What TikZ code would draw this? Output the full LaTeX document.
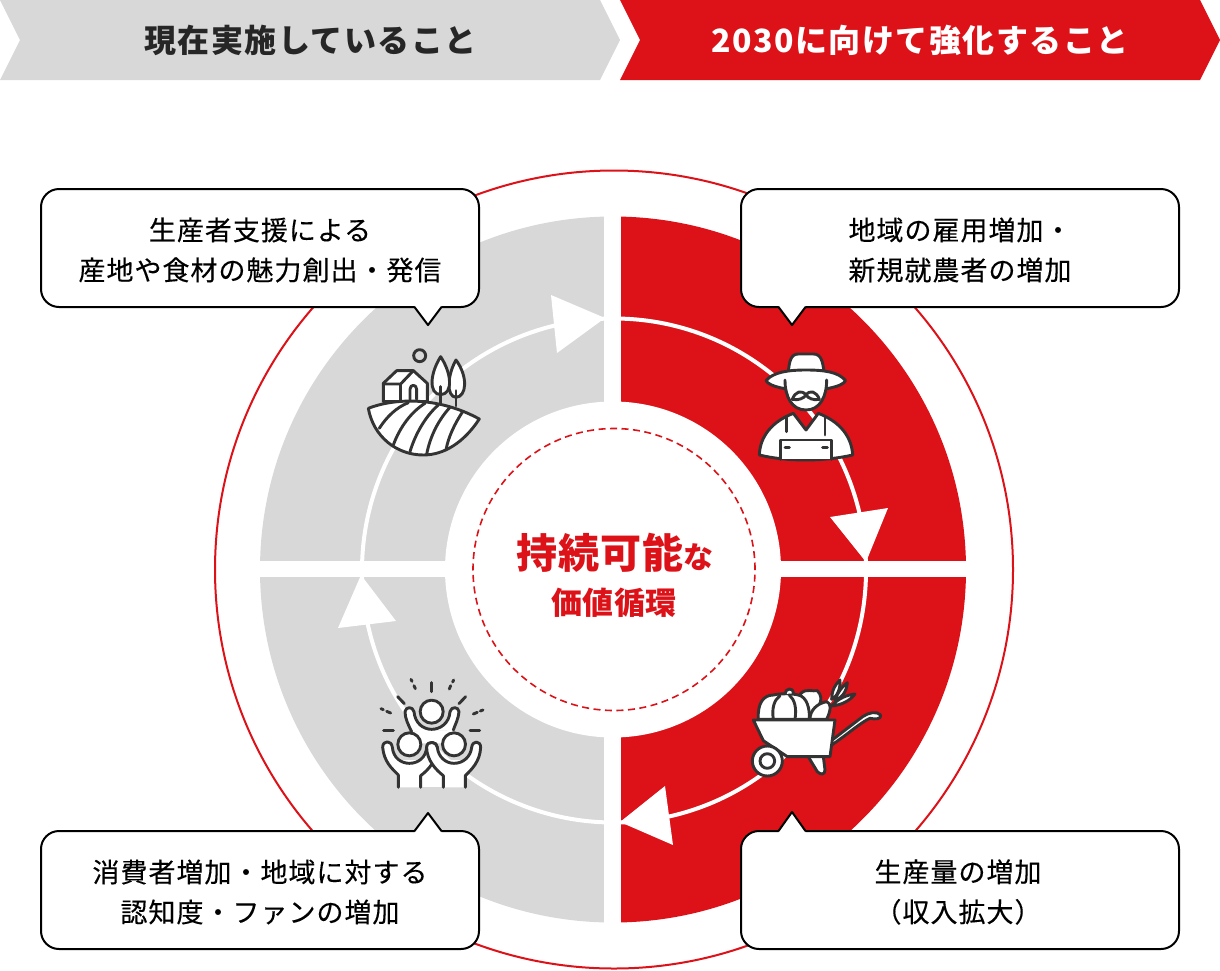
\documentclass[tikz,border=0pt]{standalone}
\usepackage{fontspec}
\setmainfont{Noto Sans CJK JP}
\newfontfamily\jphead[LetterSpace=4.6]{Noto Sans CJK JP}
\newfontfamily\jpbox[LetterSpace=3.7,FakeBold=0.25]{Noto Sans CJK JP}
\newfontfamily\jpmid[LetterSpace=2]{Noto Sans CJK JP}
\definecolor{myred}{HTML}{DC1218}
\definecolor{mygray}{HTML}{D8D8D8}
\definecolor{ink}{HTML}{333333}
\tikzset{
  calloutbox/.style={draw=black,line width=2pt,fill=white,rounded corners=18pt,minimum width=438pt,minimum height=118pt,inner sep=0pt},
  callouttext/.style={inner sep=0pt,align=center,font=\jpbox\fontsize{27}{40}\selectfont},
  pointerline/.style={draw=black,line width=2pt,line join=round,line cap=round},
  chevgray/.style={fill=mygray},
  chevred/.style={fill=myred},
  headtext/.style={inner sep=0pt,font=\jphead\bfseries\fontsize{32}{36}\selectfont},
  icon/.style={draw=ink,line width=2.9pt,fill=white,line join=round,line cap=round},
  iconline/.style={draw=ink,line width=2.9pt,line join=round,line cap=round},
  arrowhead/.style={fill=white},
}
% #1 left x, #2 tip x, #3 base y, #4 tip y, #5 overlap sign for the cover
\newcommand{\pointer}[5]{%
  \fill[white] (#1,#3+#5) -- (#1,#3) -- (#2,#4) -- ({2*#2-#1},#3) -- ({2*#2-#1},#3+#5) -- cycle;
  \draw[pointerline] (#1,#3) -- (#2,#4) -- ({2*#2-#1},#3);
}
\begin{document}
\begin{tikzpicture}[x=1pt,y=-1pt]
\useasboundingbox (0,0) rectangle (1220,970);
\coordinate (c) at (613,569.5);
% header
\fill[chevgray] (0,0) -- (600,0) -- (620,40) -- (600,80) -- (0,80) -- (20,40) -- cycle;
\fill[chevred] (620,0) -- (1200,0) -- (1220,40) -- (1200,80) -- (620,80) -- (640,40) -- cycle;
\node[headtext,text=black!85] (h1) at (310.5,40.5) {現在実施していること};
\node[headtext,text=white] (h2) at (920,40.5) {2030に向けて強化すること};
% rings
\draw[myred,line width=2pt] (c) ++(1,0) circle[radius=399pt];
\begin{scope}
\clip (0,100) rectangle (613,970);
\fill[mygray] (c) circle[radius=353pt];
\end{scope}
\begin{scope}
\clip (613,100) rectangle (1220,970);
\fill[myred] (c) circle[radius=353pt];
\end{scope}
\draw[white,line width=4pt] (c) ++(1,1) circle[radius=252pt];
\fill[white] (604,210) rectangle (620.5,930);
\fill[white] (255,561) rectangle (970,577);
\fill[white] (c) circle[radius=168pt];
\draw[myred,line width=1.6pt,dash pattern=on 7pt off 4.5pt] (c) ++(1,0) circle[radius=141pt];
% arrowheads
\fill[arrowhead] (605,318) -- (551,295) -- (557,353) -- cycle;
\fill[arrowhead] (866,562) -- (830,517) -- (888,508) -- cycle;
\fill[arrowhead] (620,822) -- (665,786) -- (673,845) -- cycle;
\fill[arrowhead] (361,575) -- (338,628) -- (396,621) -- cycle;
% centre text
\node[inner sep=0pt,text=myred,font=\jpmid\bfseries] (mid1) at (615,553) {{\fontsize{41}{44}\selectfont 持続可能}{\fontsize{30}{44}\selectfont な}};
\node[inner sep=0pt,text=myred,font=\jpmid\bfseries\fontsize{31}{36}\selectfont] (mid2) at (614,603) {価値循環};

% farm icon
\begin{scope}[shift={(340,320)},x=0.3333pt,y=-0.3333pt]
\draw[iconline] (239,107) circle[radius=6pt];
\draw[icon] (348,120) .. controls (322,165) and (318,230) .. (348,232) .. controls (380,230) and (385,170) .. (348,120) -- cycle;
\draw[iconline] (348,258) -- (348,212);
\draw[icon] (302,110) .. controls (270,160) and (265,222) .. (302,224) .. controls (340,222) and (335,160) .. (302,110) -- cycle;
\draw[iconline] (302,250) -- (302,200);
\draw[icon] (130,245) -- (130,190) -- (170,152) -- (220,152) -- (262,190) -- (262,245) -- cycle;
\draw[iconline] (130,192) -- (182,192) -- (220,152);
\draw[iconline] (182,192) -- (182,240);
\draw[iconline] (210,238) -- (210,208) .. controls (210,192) and (230,192) .. (230,208) -- (230,238);
\draw[icon] (85,265) .. controls (170,232) and (300,232) .. (418,297) .. controls (370,370) and (310,405) .. (250,405) .. controls (170,405) and (100,350) .. (85,265) -- cycle;
\draw[iconline] (205,248) .. controls (170,262) and (140,290) .. (118,325);
\draw[iconline] (255,250) .. controls (215,275) and (180,320) .. (160,375);
\draw[iconline] (295,255) .. controls (255,290) and (225,345) .. (210,395);
\draw[iconline] (330,262) .. controls (295,300) and (270,350) .. (260,403);
\draw[iconline] (368,275) .. controls (345,310) and (325,350) .. (318,390);
\end{scope}

% farmer icon
\begin{scope}[shift={(730,330)},x=0.3333pt,y=-0.3333pt]
\draw[icon] (88,375) .. controls (90,320) and (125,275) .. (190,250) -- (228,300) -- (265,250) .. controls (330,275) and (365,320) .. (368,375) .. controls (280,395) and (170,395) .. (88,375) -- cycle;
\draw[iconline] (170,260) -- (170,305);
\draw[iconline] (285,260) -- (285,315);
\draw[iconline,fill=white] (152,388) -- (152,330) -- (305,330) -- (305,388);
\draw[iconline] (165,352) -- (178,352);
\draw[iconline] (278,352) -- (292,352);
\draw[icon] (175,125) .. controls (178,95) and (182,72) .. (205,72) -- (250,72) .. controls (274,72) and (278,95) .. (282,125) -- cycle;
\draw[icon] (108,152) .. controls (130,125) and (180,120) .. (228,120) .. controls (280,120) and (325,125) .. (347,152) .. controls (325,190) and (130,190) .. (108,152) -- cycle;
\fill[white] (168,154) .. controls (170,198) and (188,237) .. (228,237) .. controls (268,237) and (287,198) .. (287,154) -- cycle;
\draw[iconline] (165,150) .. controls (165,200) and (185,240) .. (228,240) .. controls (270,240) and (290,200) .. (290,150);
\draw[iconline,fill=white] (228,195) .. controls (215,178) and (195,185) .. (187,208) .. controls (205,212) and (222,205) .. (228,195) .. controls (235,205) and (250,212) .. (268,208) .. controls (260,185) and (240,178) .. (228,195) -- cycle;
\end{scope}

% wheelbarrow icon
\begin{scope}[shift={(730,660)},x=0.3333pt,y=-0.3333pt]
\draw[icon] (300,245) -- (398,170) .. controls (415,158) and (440,152) .. (452,165) .. controls (455,178) and (435,178) .. (420,175) .. controls (395,185) and (350,225) .. (305,255) -- cycle;
\draw[icon] (236,292) -- (262,335) .. controls (272,345) and (285,345) .. (285,330) -- (280,290);
\draw[icon] (212,100) .. controls (225,85) and (250,95) .. (262,92) .. controls (275,105) and (275,120) .. (268,135) -- (245,178) -- (215,178) -- cycle;
\draw[icon] (305,118) .. controls (305,90) and (318,70) .. (330,60) .. controls (332,85) and (322,110) .. (305,118) -- cycle;
\draw[icon] (315,120) .. controls (322,100) and (335,80) .. (352,68) .. controls (350,95) and (335,115) .. (315,120) -- cycle;
\draw[icon] (305,138) .. controls (325,115) and (350,105) .. (375,102) .. controls (360,122) and (335,135) .. (305,138) -- cycle;
\draw[icon] (240,178) .. controls (240,150) and (262,130) .. (290,125) .. controls (305,130) and (303,150) .. (290,178) -- cycle;
\draw[icon] (85,178) .. controls (82,130) and (100,105) .. (130,105) .. controls (150,100) and (185,100) .. (205,105) .. controls (230,110) and (240,145) .. (238,178) -- cycle;
\draw[icon] (165,102) .. controls (165,85) and (190,80) .. (190,100);
\draw[iconline] (130,178) .. controls (125,145) and (132,120) .. (150,107);
\draw[iconline] (195,178) .. controls (200,145) and (195,120) .. (178,105);
\draw[icon] (70,180) -- (315,180) -- (300,290) -- (172,290) -- (100,242) -- cycle;
\draw[icon] (112,303) circle[radius=15pt];
\draw[iconline] (112,303) circle[radius=7.3pt];
\end{scope}

% people icon
\begin{scope}[shift={(360,660)},x=0.3333pt,y=-0.3333pt]
\draw[iconline] (215,68) -- (215,95);
\draw[iconline] (113,110) -- (133,131);
\draw[iconline] (317,110) -- (297,131);
\draw[iconline] (153,58) -- (156,64);
\draw[iconline] (162,77) -- (166,86);
\draw[iconline] (281,60) -- (278,66);
\draw[iconline] (272,77) -- (268,87);
\draw[iconline] (63,146) -- (70,149);
\draw[iconline] (80,154) -- (92,159);
\draw[iconline] (369,150) -- (361,153);
\draw[iconline] (352,157) -- (340,162);
\draw[iconline] (71,211) -- (100,211);
\draw[iconline] (330,211) -- (359,211);
\fill[white] (155,215) -- (150,250) -- (280,250) -- (280,210) -- cycle;
\draw[icon] (155,215) .. controls (145,195) and (135,175) .. (135,155) .. controls (137,140) and (158,138) .. (162,155) .. controls (165,190) and (190,208) .. (215,208) .. controls (240,208) and (268,190) .. (270,155) .. controls (274,138) and (296,140) .. (297,155) .. controls (296,175) and (285,195) .. (280,210);
\draw[icon] (215,155) circle[radius=11.5pt];
\fill[white] (115,380) -- (115,300) -- (315,300) -- (315,380) -- cycle;
\draw[icon] (115,382) -- (115,345) .. controls (95,325) and (72,305) .. (68,262) .. controls (68,240) and (95,240) .. (97,262) .. controls (100,295) and (125,310) .. (148,310) .. controls (175,310) and (198,292) .. (200,262) .. controls (203,240) and (232,245) .. (232,262) .. controls (232,300) and (205,330) .. (182,347) -- (182,382);
\draw[icon] (250,382) -- (250,347) .. controls (228,330) and (200,300) .. (200,262) .. controls (200,240) and (232,245) .. (232,262) .. controls (235,292) and (258,310) .. (282,310) .. controls (310,310) and (332,290) .. (335,262) .. controls (338,240) and (362,242) .. (362,262) .. controls (360,305) and (335,328) .. (316,347) -- (316,382);
\draw[icon] (148,253) circle[radius=11.5pt];
\draw[icon] (282,253) circle[radius=11.5pt];
\end{scope}

% callouts
\node[calloutbox] (b1) at (260,248) {};
\node[calloutbox] (b2) at (960,248) {};
\node[calloutbox] (b3) at (960,890) {};
\node[calloutbox] (b4) at (260,890) {};
\pointer{414.5}{428}{307}{325}{-2}
\pointer{778.5}{792}{307}{325}{-2}
\pointer{778.5}{792}{831}{812}{2}
\pointer{414.5}{428}{831}{813}{2}
\node[callouttext] (t1) at (260,250) {生産者支援による\\産地や食材の魅力創出・発信};
\node[callouttext] (t2) at (960,250) {地域の雇用増加・\\新規就農者の増加};
\node[callouttext] (t3) at (958,892) {生産量の増加\\（収入拡大）};
\node[callouttext] (t4) at (260,892) {消費者増加・地域に対する\\認知度・ファンの増加};
\end{tikzpicture}
\end{document}
